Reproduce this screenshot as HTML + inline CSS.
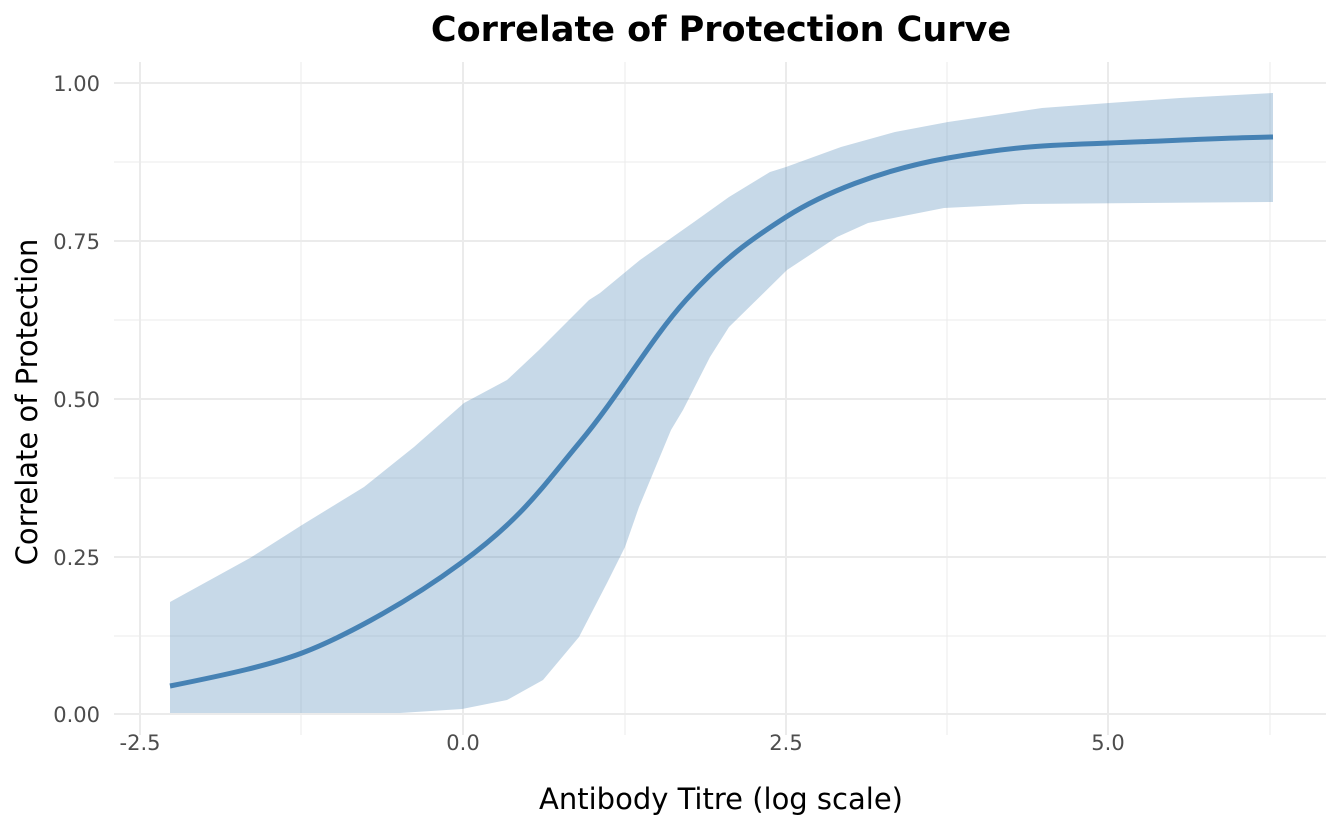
<!DOCTYPE html>
<html><head><meta charset="utf-8"><style>
html,body{margin:0;padding:0;background:#fff;}
svg{display:block;font-family:"DejaVu Sans","Liberation Sans",sans-serif;}
</style></head><body>
<svg width="1344" height="830" viewBox="0 0 1344 830" xmlns="http://www.w3.org/2000/svg">
<rect width="1344" height="830" fill="#fff"/>
<g stroke="#ebebeb" stroke-width="1">
<line x1="114" x2="1326" y1="162" y2="162"/><line x1="114" x2="1326" y1="320" y2="320"/>
<line x1="114" x2="1326" y1="478" y2="478"/><line x1="114" x2="1326" y1="636" y2="636"/>
<line x1="301" x2="301" y1="62" y2="735"/><line x1="625" x2="625" y1="62" y2="735"/>
<line x1="947" x2="947" y1="62" y2="735"/><line x1="1270" x2="1270" y1="62" y2="735"/>
</g>
<g stroke="#ebebeb" stroke-width="2">
<line x1="114" x2="1326" y1="83" y2="83"/><line x1="114" x2="1326" y1="241" y2="241"/>
<line x1="114" x2="1326" y1="399" y2="399"/><line x1="114" x2="1326" y1="557" y2="557"/>
<line x1="114" x2="1326" y1="714" y2="714"/>
<line x1="140" x2="140" y1="62" y2="735"/><line x1="463" x2="463" y1="62" y2="735"/>
<line x1="786" x2="786" y1="62" y2="735"/><line x1="1108" x2="1108" y1="62" y2="735"/>
</g>
<polygon fill="#4682b4" fill-opacity="0.3" points="170,602 250,558 302,525 364,487 414,447 464,403 507,380 539,350 589,300 600,293 640,260 694,222 729,197 770,172 786,167 841,147 895,132 948,122 1042,108 1109,103 1180,98 1273,93 1273,202 1024,204 944,208 868,223 837,237 787,270 729,327 710,357 683,410 671,430 639,507 625,547 607,583 579,637 543,680 507,700 462,709 400,713 170,713"/>
<path fill="none" stroke="#4682b4" stroke-width="5" stroke-linejoin="round" stroke-linecap="butt" d="M170,686 C230,674 270,665 302,653 S400,608 461,563 S540,490 580,442 S650,340 686,300 S750,240 786,217 S880,170 948,158 S1050,145 1109,143 S1220,138 1273,137"/>
<g fill="#4d4d4d" font-size="21" text-anchor="end">
<text x="100" y="91">1.00</text><text x="100" y="249">0.75</text><text x="100" y="407">0.50</text>
<text x="100" y="565">0.25</text><text x="100" y="722">0.00</text>
</g>
<g fill="#4d4d4d" font-size="21" text-anchor="middle">
<text x="140" y="750">-2.5</text><text x="463" y="750">0.0</text><text x="786" y="750">2.5</text><text x="1108" y="750">5.0</text>
</g>
<text x="721" y="809" text-anchor="middle" font-size="29" fill="#000">Antibody Titre (log scale)</text>
<text transform="translate(37,402) rotate(-90)" text-anchor="middle" font-size="29" fill="#000">Correlate of Protection</text>
<text x="721" y="41" text-anchor="middle" font-size="35" font-weight="bold" fill="#000">Correlate of Protection Curve</text>
</svg>
</body></html>
